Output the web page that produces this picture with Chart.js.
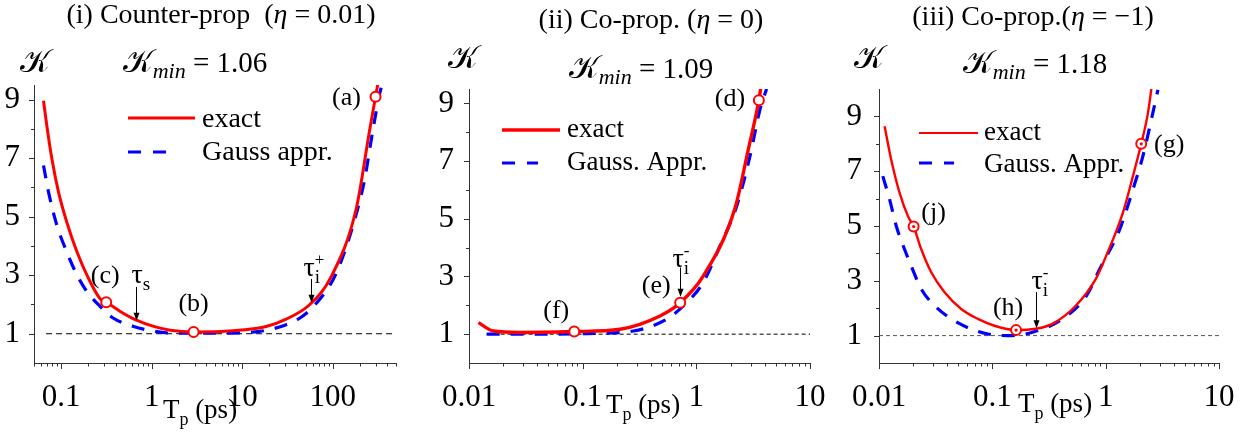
<!DOCTYPE html>
<html lang="en">
<head>
<meta charset="UTF-8">
<title>K versus pump duration</title>
<script src="https://cdn.jsdelivr.net/npm/chart.js"></script>
<style>
  html,body{margin:0;background:#fff;font-family:'Liberation Serif',serif;}
  #wrap{position:relative;width:1256px;height:437px;overflow:hidden;}
  #wrap canvas{position:absolute;top:0;}
</style>
</head>
<body>
<div id="wrap">
  <canvas id="c1" width="420" height="437" style="left:0"></canvas>
  <canvas id="c2" width="420" height="437" style="left:420px"></canvas>
  <canvas id="c3" width="416" height="437" style="left:840px"></canvas>
</div>
<script>
const SERIF = "'Liberation Serif', serif";

/* ---------- panel (i): counter-prop, eta = 0.01 ---------- */
const p1ExactT = [0.0637, 0.0693, 0.0788, 0.0933, 0.115, 0.149, 0.200, 0.270, 0.314, 0.449, 0.657, 1.05, 1.6, 2.9, 7.87, 18.4, 30.6, 55.4, 96.2, 182, 255, 297, 318];
const p1ExactK = [8.96, 8.11, 6.98, 5.84, 4.82, 3.80, 2.89, 2.19, 2.08, 1.76, 1.48, 1.25, 1.12, 1.06, 1.10, 1.25, 1.50, 1.99, 2.95, 5.28, 7.94, 9.1, 9.6];
const p1GaussT = [0.0637, 0.0724, 0.0894, 0.115, 0.149, 0.192, 0.270, 0.378, 0.63, 1.0, 1.71, 5.16, 15.5, 30.6, 43, 65.8, 109, 174, 224, 277, 329, 352];
const p1GaussK = [6.75, 5.84, 4.71, 3.80, 3.01, 2.44, 1.93, 1.53, 1.25, 1.1, 1.02, 1.02, 1.08, 1.31, 1.53, 2.04, 3.06, 4.88, 6.24, 7.94, 9.19, 9.53];
const p1MarkT = [297, 2.9, 0.314];
const p1MarkK = [9.1, 1.06, 2.08];
const p1MarkNames = ['(a)', '(b)', '(c)'];
const p1BaseT = [0.068, 500];
const p1BaseK = [1, 1];
const p1ArrowT = [0.662, 57];
const p1ArrowFrom = [2.6, 2.87];
const p1ArrowTo = [1.44, 2.06];

/* ---------- panel (ii): co-prop, eta = 0 ---------- */
const p2ExactT = [0.0121, 0.0164, 0.0281, 0.0843, 0.213, 0.478, 0.721, 1.149, 2.19, 2.86, 3.55, 3.68];
const p2ExactK = [1.40, 1.11, 1.06, 1.09, 1.17, 1.63, 2.09, 3.01, 5.37, 7.39, 9.11, 9.5];
const p2GaussT = [0.0143, 0.05, 0.108, 0.279, 0.548, 0.767, 1.149, 1.61, 2.26, 2.96, 3.62, 4.15];
const p2GaussK = [1.0, 1.0, 1.02, 1.11, 1.52, 1.98, 2.79, 4.05, 5.43, 7.16, 8.77, 9.5];
const p2MarkT = [3.55, 0.721, 0.0843];
const p2MarkK = [9.11, 2.09, 1.09];
const p2MarkNames = ['(d)', '(e)', '(f)'];
const p2BaseT = [0.0143, 10];
const p2BaseK = [1, 1];
const p2ArrowT = [0.718];
const p2ArrowFrom = [3.31];
const p2ArrowTo = [2.3];

/* ---------- panel (iii): co-prop, eta = -1 ---------- */
const p3ExactT = [0.0112, 0.0128, 0.0152, 0.018, 0.0202, 0.0236, 0.0289, 0.0379, 0.0531, 0.0745, 0.1045, 0.162, 0.242, 0.339, 0.545, 0.817, 1.01, 1.42, 1.74, 2.06, 2.36, 2.53];
const p3ExactK = [8.64, 7.43, 6.21, 5.36, 4.98, 4.15, 3.31, 2.58, 1.97, 1.61, 1.36, 1.2, 1.25, 1.43, 2.09, 3.06, 3.91, 5.49, 6.82, 8.0, 9.12, 10.0];
const p3GaussT = [0.0108, 0.0124, 0.0142, 0.0168, 0.019, 0.0236, 0.031, 0.0434, 0.065, 0.0912, 0.137, 0.226, 0.416, 0.676, 0.886, 1.33, 1.74, 2.13, 2.53, 2.89];
const p3GaussK = [6.82, 5.97, 5.0, 4.15, 3.6, 2.70, 2.09, 1.61, 1.24, 1.06, 1.0, 1.12, 1.61, 2.45, 3.43, 4.88, 6.33, 7.55, 8.88, 9.97];
const p3MarkT = [2.06, 0.162, 0.0202];
const p3MarkK = [8.0, 1.2, 4.98];
const p3MarkNames = ['(g)', '(h)', '(j)'];
const p3BaseT = [0.01, 10];
const p3BaseK = [1, 1];
const p3ArrowT = [0.242];
const p3ArrowFrom = [2.59];
const p3ArrowTo = [1.27];

/* ---------- tick labels ---------- */
const p1XMajor = [0.1, 1, 10, 100];
const p1XLabels = ['0.1', '1', '10', '100'];
const p23XMajor = [0.01, 0.1, 1, 10];
const p23XLabels = ['0.01', '0.1', '1', '10'];
const yMajor = [1, 3, 5, 7, 9];
const yLabels = ['1', '3', '5', '7', '9'];
const yMinor = [2, 4, 6, 8];

/* ---------- helpers ---------- */
function logMinors(min, max) {
  const out = [];
  for (let e = Math.floor(Math.log10(min)); e <= Math.ceil(Math.log10(max)); e++)
    for (let m = 2; m <= 9; m++) {
      const v = m * Math.pow(10, e);
      if (v >= min * 0.999 && v <= max * 1.001) out.push(v);
    }
  return out;
}
const fontOf = (s, it) => (it ? 'italic ' : '') + s + 'px ' + SERIF;
// parts: [text, size, italic, dy, noAdvance]
function drawParts(ctx, parts, x, y, align) {
  let w = 0;
  parts.forEach(q => { ctx.font = fontOf(q[1], q[2]); if (!q[4]) w += ctx.measureText(q[0]).width; });
  let cx = align === 'center' ? x - w / 2 : x;
  ctx.textAlign = 'left'; ctx.textBaseline = 'alphabetic'; ctx.fillStyle = '#000';
  parts.forEach(q => {
    ctx.font = fontOf(q[1], q[2]);
    ctx.fillText(q[0], cx, y + (q[3] || 0));
    if (!q[4]) cx += ctx.measureText(q[0]).width;
  });
}
const pts = (t, k) => t.map((x, i) => ({x, y: k[i]}));

function makeDeco(p) {
  return {
    id: 'deco',
    afterDraw(chart) {
      const {ctx, chartArea: a, scales: {x, y}} = chart;
      ctx.save();
      // axes and ticks
      ctx.strokeStyle = '#333'; ctx.lineWidth = 1; ctx.setLineDash([]);
      ctx.beginPath();
      ctx.moveTo(a.left + 0.5, a.top); ctx.lineTo(a.left + 0.5, a.bottom + 0.5); ctx.lineTo(a.right, a.bottom + 0.5);
      p.xMajor.forEach(v => { const px = Math.round(x.getPixelForValue(v)) + 0.5; ctx.moveTo(px, a.bottom); ctx.lineTo(px, a.bottom + 6); });
      logMinors(p.xMin, p.xMax).forEach(v => { const px = Math.round(x.getPixelForValue(v)) + 0.5; ctx.moveTo(px, a.bottom); ctx.lineTo(px, a.bottom + 3.5); });
      yMajor.forEach(v => { const py = Math.round(y.getPixelForValue(v)) + 0.5; ctx.moveTo(a.left, py); ctx.lineTo(a.left - 5, py); });
      yMinor.forEach(v => { const py = Math.round(y.getPixelForValue(v)) + 0.5; ctx.moveTo(a.left, py); ctx.lineTo(a.left - 3, py); });
      ctx.stroke();

      // arrows with tau labels
      p.arrowT.forEach((t, i) => {
        const px = Math.round(x.getPixelForValue(t)) + 0.5;
        const y1 = y.getPixelForValue(p.arrowFrom[i]), y2 = y.getPixelForValue(p.arrowTo[i]);
        ctx.strokeStyle = '#000'; ctx.fillStyle = '#000'; ctx.lineWidth = 1;
        ctx.beginPath(); ctx.moveTo(px, y1); ctx.lineTo(px, y2 - 6); ctx.stroke();
        ctx.beginPath(); ctx.moveTo(px - 3, y2 - 8); ctx.lineTo(px + 3, y2 - 8); ctx.lineTo(px, y2); ctx.closePath(); ctx.fill();
        const L = p.tau[i];
        drawParts(ctx, L.parts, px + L.dx, y1 + L.dy, 'left');
      });

      // marker labels
      p.markT.forEach((t, i) => {
        const o = p.markOff[i];
        drawParts(ctx, [[p.markNames[i], p.labelSize]], x.getPixelForValue(t) + o[0], y.getPixelForValue(p.markK[i]) + o[1], 'center');
      });

      // legend
      p.legend.forEach(L => {
        ctx.strokeStyle = L.color; ctx.lineWidth = L.w; ctx.setLineDash(L.dash);
        ctx.beginPath(); ctx.moveTo(L.x1, L.y); ctx.lineTo(L.x2, L.y); ctx.stroke();
        ctx.setLineDash([]);
        drawParts(ctx, [[L.text, L.size]], L.tx, L.ty, 'left');
      });

      // titles and axis names
      p.texts.forEach(T => drawParts(ctx, T.parts, T.x, T.y, T.align));
      ctx.restore();
    }
  };
}

const charts = [];
function makePanel(id, p) {
  const cv = document.getElementById(id);
  const W = cv.width, H = cv.height, a = p.area;
  const xTicks = p.xMajor.concat(logMinors(p.xMin, p.xMax));
  const lbl = (vals, labels) => v => {
    const i = vals.findIndex(m => Math.abs(m - v) <= m * 1e-6);
    return i < 0 ? '' : labels[i];
  };
  const datasets = [
    {data: pts(p.markT, p.markK), showLine: false, pointRadius: 5, pointBackgroundColor: '#fff',
     pointBorderColor: '#ff0000', pointBorderWidth: 2}
  ];
  if (p.dotMarks) datasets.unshift({data: pts(p.markT, p.markK), showLine: false, pointRadius: 1.6,
     pointBackgroundColor: '#ff0000', pointBorderWidth: 0});
  datasets.push(
    {data: pts(p.exactT, p.exactK), showLine: true, borderColor: '#ff0000', borderWidth: p.exactW,
     pointRadius: 0, cubicInterpolationMode: 'monotone'},
    {data: pts(p.gaussT, p.gaussK), showLine: true, borderColor: '#0000ff', borderWidth: 3.2,
     borderDash: [13, 11], pointRadius: 0, cubicInterpolationMode: 'monotone'},
    {data: pts(p.baseT, p.baseK), showLine: true, borderColor: p.baseColor, borderWidth: 1,
     borderDash: p.baseDash, pointRadius: 0}
  );
  charts.push(new Chart(cv, {
    type: 'scatter',
    data: {datasets},
    options: {
      responsive: false, animation: false, events: [],
      layout: {padding: {top: a.top, right: W - a.right, left: 0, bottom: 0}},
      plugins: {legend: {display: false}, tooltip: {enabled: false}},
      scales: {
        x: {type: 'logarithmic', min: p.xMin, max: p.xMax,
            grid: {display: false}, border: {display: false},
            afterBuildTicks: s => { s.ticks = xTicks.map(v => ({value: v})); },
            afterFit: s => { s.height = H - a.bottom; },
            ticks: {autoSkip: false, maxRotation: 0, padding: 8, color: '#000',
                    font: {family: SERIF, size: 31}, callback: lbl(p.xMajor, p.xLabels)}},
        y: {type: 'linear', min: 0, max: p.yMax,
            grid: {display: false}, border: {display: false},
            afterBuildTicks: s => { s.ticks = yMajor.concat(yMinor).map(v => ({value: v})); },
            afterFit: s => { s.width = a.left; },
            ticks: {autoSkip: false, padding: p.yPad, color: '#000',
                    font: {family: SERIF, size: 31}, callback: lbl(yMajor, yLabels)}}
      }
    },
    plugins: [makeDeco(p)]
  }));
}

const tauParts = (sub, sup) => {
  const parts = [['τ', 28]];
  if (sup) parts.push([sup, 17, 0, -11, true]);
  parts.push([sub, 19, 0, 7]);
  return parts;
};

makePanel('c1', {
  area: {left: 34, right: 396, top: 85, bottom: 363},
  xMin: 0.05, xMax: 500, yMax: 9.5, yPad: 6,
  xMajor: p1XMajor, xLabels: p1XLabels,
  exactT: p1ExactT, exactK: p1ExactK, exactW: 3,
  gaussT: p1GaussT, gaussK: p1GaussK,
  baseT: p1BaseT, baseK: p1BaseK, baseColor: '#000', baseDash: [6, 4],
  markT: p1MarkT, markK: p1MarkK, markNames: p1MarkNames, dotMarks: false,
  markOff: [[-29, 8], [0, -21], [-1, -19]], labelSize: 26,
  arrowT: p1ArrowT, arrowFrom: p1ArrowFrom, arrowTo: p1ArrowTo,
  tau: [{parts: tauParts('s'), dx: -5, dy: -4}, {parts: tauParts('i', '+'), dx: -8, dy: -3}],
  legend: [
    {x1: 128, x2: 195, y: 118, color: '#ff0000', w: 3, dash: [], text: 'exact', tx: 202, ty: 127, size: 28},
    {x1: 128, x2: 170, y: 152, color: '#0000ff', w: 3.2, dash: [13, 12], text: 'Gauss appr.', tx: 202, ty: 160, size: 28}
  ],
  texts: [
    {x: 221, y: 23, align: 'center', parts: [['(i) Counter-prop  (', 28], ['η', 28, 1], [' = 0.01)', 28]]},
    {x: 20, y: 72, align: 'left', parts: [['𝒦', 32]]},
    {x: 195, y: 72, align: 'center', parts: [['𝒦', 32], ['min', 22, 1, 6], [' = 1.06', 29]]},
    {x: 200, y: 418, align: 'center', parts: [['T', 27], ['p', 18, 0, 7], [' (ps)', 27]]}
  ]
});

makePanel('c2', {
  area: {left: 49, right: 390, top: 89, bottom: 363},
  xMin: 0.01, xMax: 10, yMax: 9.5, yPad: 7,
  xMajor: p23XMajor, xLabels: p23XLabels,
  exactT: p2ExactT, exactK: p2ExactK, exactW: 3.4,
  gaussT: p2GaussT, gaussK: p2GaussK,
  baseT: p2BaseT, baseK: p2BaseK, baseColor: '#000', baseDash: [4, 3],
  markT: p2MarkT, markK: p2MarkK, markNames: p2MarkNames, dotMarks: false,
  markOff: [[-29, 6], [-24, -10], [-18, -14]], labelSize: 26,
  arrowT: p2ArrowT, arrowFrom: p2ArrowFrom, arrowTo: p2ArrowTo,
  tau: [{parts: tauParts('i', '-'), dx: -8, dy: -1}],
  legend: [
    {x1: 82, x2: 140, y: 130, color: '#ff0000', w: 3.4, dash: [], text: 'exact', tx: 147, ty: 137, size: 27},
    {x1: 82, x2: 118, y: 163, color: '#0000ff', w: 3.2, dash: [13, 12], text: 'Gauss. Appr.', tx: 147, ty: 170, size: 27}
  ],
  texts: [
    {x: 231, y: 28, align: 'center', parts: [['(ii) Co-prop. (', 28], ['η', 28, 1], [' = 0)', 28]]},
    {x: 28, y: 68, align: 'left', parts: [['𝒦', 32]]},
    {x: 221, y: 78, align: 'center', parts: [['𝒦', 32], ['min', 22, 1, 6], [' = 1.09', 29]]},
    {x: 223, y: 413, align: 'center', parts: [['T', 27], ['p', 18, 0, 7], [' (ps)', 27]]}
  ]
});

makePanel('c3', {
  area: {left: 39, right: 379, top: 89, bottom: 363},
  xMin: 0.01, xMax: 10, yMax: 10, yPad: 9,
  xMajor: p23XMajor, xLabels: p23XLabels,
  exactT: p3ExactT, exactK: p3ExactK, exactW: 2.4,
  gaussT: p3GaussT, gaussK: p3GaussK,
  baseT: p3BaseT, baseK: p3BaseK, baseColor: '#555', baseDash: [4, 3],
  markT: p3MarkT, markK: p3MarkK, markNames: p3MarkNames, dotMarks: true,
  markOff: [[28, 8], [-8, -15], [20, -7]], labelSize: 26,
  arrowT: p3ArrowT, arrowFrom: p3ArrowFrom, arrowTo: p3ArrowTo,
  tau: [{parts: tauParts('i', '-'), dx: -5, dy: -3}],
  legend: [
    {x1: 79, x2: 138, y: 133, color: '#ff0000', w: 2.2, dash: [], text: 'exact', tx: 144, ty: 140, size: 27},
    {x1: 79, x2: 114, y: 163, color: '#0000ff', w: 3.2, dash: [13, 12], text: 'Gauss. Appr.', tx: 144, ty: 172, size: 27}
  ],
  texts: [
    {x: 193, y: 25, align: 'center', parts: [['(iii) Co-prop.(', 28], ['η', 28, 1], [' = −1)', 28]]},
    {x: 14, y: 68, align: 'left', parts: [['𝒦', 32]]},
    {x: 195, y: 73, align: 'center', parts: [['𝒦', 32], ['min', 22, 1, 6], [' = 1.18', 29]]},
    {x: 215, y: 412, align: 'center', parts: [['T', 27], ['p', 18, 0, 7], [' (ps)', 27]]}
  ]
});

// redraw once the serif faces are confirmed ready
Promise.all([
  document.fonts.load("31px 'Liberation Serif'"),
  document.fonts.load("italic 22px 'Liberation Serif'")
]).then(() => charts.forEach(c => c.update('none')));
</script>
</body>
</html>
